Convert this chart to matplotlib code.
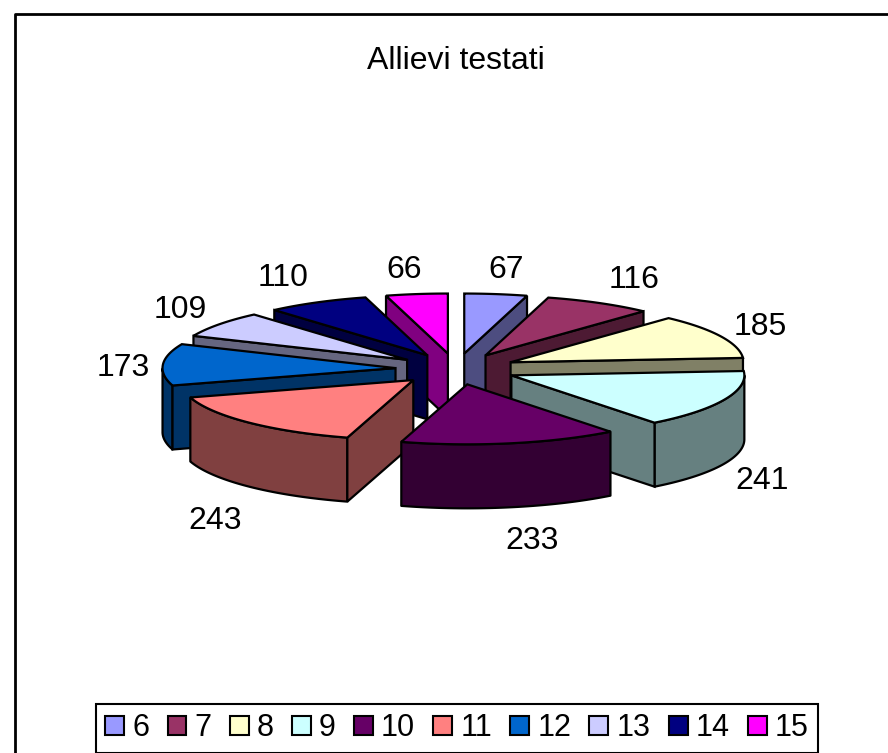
import matplotlib
matplotlib.use('Agg')
import matplotlib.pyplot as plt
import numpy as np
from matplotlib.patches import Patch, Polygon

plt.rcParams['font.family'] = ['Liberation Sans', 'DejaVu Sans']

CLASSES = ['6', '7', '8', '9', '10', '11', '12', '13', '14', '15']
VALUES = [67, 116, 185, 241, 233, 243, 173, 109, 110, 66]
COLORS = ['#9999FF', '#993366', '#FFFFCC', '#CCFFFF', '#660066',
          '#FF8080', '#0066CC', '#CCCCFF', '#000080', '#FF00FF']

# pie geometry in pixels
CX, CY = 456, 369
RX, RY = 233, 60
EXPLODE = 0.26
DEPTH = 64
# label offset from the outer edge of each slice, pixels, y up
LABEL_OFFSET = [(10, 24), (35, 23), (40, 9), (38, -81), (21, -98),
                (-34, -98), (-40, -3), (-39, 14), (-34, 24), (-13, 24)]


def shade(color):
    return tuple(c * 0.5 for c in matplotlib.colors.to_rgb(color))


def point(theta, ox, oy, r=1.0):
    return ox + r * RX * np.sin(theta), oy - r * RY * np.cos(theta)


fig = plt.figure(figsize=(8.88, 7.53), dpi=100)
ax = fig.add_axes([0, 0, 1, 1])
ax.set_xlim(0, 888)
ax.set_ylim(753, 0)
ax.axis('off')

# chart area border, right and bottom fall outside the picture
ax.plot([15, 15, 900], [760, 14, 14], color='black', lw=2)

values = np.array(VALUES, dtype=float)
edges = np.concatenate([[0], np.cumsum(values)]) / values.sum() * 2 * np.pi
mids = (edges[:-1] + edges[1:]) / 2

# back slices first so the front ones paint over them
order = np.argsort(-np.cos(mids))
for i in order:
    a0, a1 = edges[i], edges[i + 1]
    ox, oy = point(mids[i], CX, CY, EXPLODE)
    ts = np.linspace(a0, a1, 80)
    xs, ys = point(ts, ox, oy)
    dark = shade(COLORS[i])

    # curved wall, only the part facing the viewer
    front = ts[np.cos(ts) <= 0]
    if len(front) > 1:
        fx, fy = point(front, ox, oy)
        wall = np.column_stack([np.r_[fx, fx[::-1]], np.r_[fy, fy[::-1] + DEPTH]])
        ax.add_patch(Polygon(wall, closed=True, fc=dark, ec='black', lw=1.6, joinstyle='round'))

    # cut faces
    if np.sin(a0) < -1e-6:
        quad = [(ox, oy), (xs[0], ys[0]), (xs[0], ys[0] + DEPTH), (ox, oy + DEPTH)]
        ax.add_patch(Polygon(quad, closed=True, fc=dark, ec='black', lw=1.6))
    if np.sin(a1) > 1e-6:
        quad = [(ox, oy), (xs[-1], ys[-1]), (xs[-1], ys[-1] + DEPTH), (ox, oy + DEPTH)]
        ax.add_patch(Polygon(quad, closed=True, fc=dark, ec='black', lw=1.6))

    top = np.column_stack([np.r_[ox, xs], np.r_[oy, ys]])
    ax.add_patch(Polygon(top, closed=True, fc=COLORS[i], ec='black', lw=1.6))

for i, val in enumerate(VALUES):
    ox, oy = point(mids[i], CX, CY, EXPLODE)
    ax.annotate(str(val), xy=point(mids[i], ox, oy), xytext=LABEL_OFFSET[i],
                textcoords='offset pixels', ha='center', va='center', fontsize=23)

ax.text(456, 61, 'Allievi testati', ha='center', va='center', fontsize=23)

handles = [Patch(fc=c, ec='black', lw=1.5) for c in COLORS]
leg = ax.legend(handles, CLASSES, ncol=10, loc='center', bbox_to_anchor=(457, 728.5),
                bbox_transform=ax.transData, fontsize=22, frameon=True, fancybox=False,
                edgecolor='black', framealpha=1, handlelength=0.62, handleheight=0.6,
                handletextpad=0.26, columnspacing=0.6, borderpad=0.3, borderaxespad=0)
leg.get_frame().set_linewidth(1.5)

fig.savefig('out.png', dpi=100)
